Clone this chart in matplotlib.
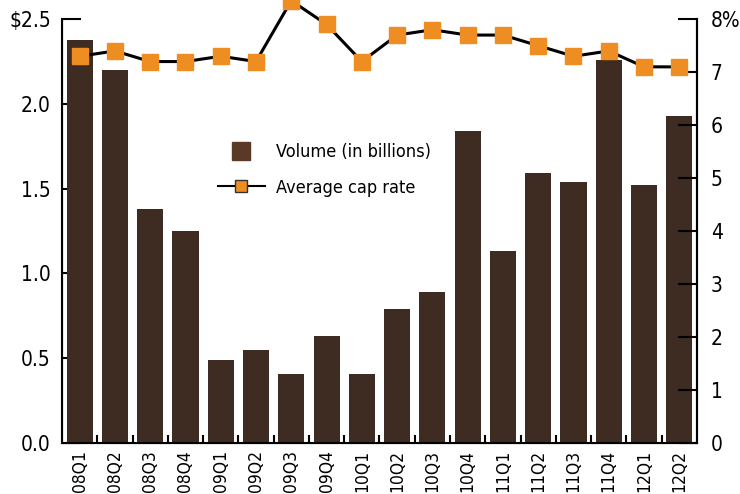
import matplotlib
matplotlib.use('Agg')
import matplotlib.pyplot as plt
from matplotlib import font_manager
from matplotlib.lines import Line2D
import numpy as np

# 找一个窄体字体
narrow = [f for f in font_manager.fontManager.ttflist
          if ('Narrow' in f.name or 'Condensed' in f.name
              or str(f.stretch) in ('condensed', 'semi-condensed', '75', '87'))
          and f.weight in (400, 'normal', 'regular') and f.style == 'normal']
if narrow:
    plt.rcParams['font.family'] = [narrow[0].name, 'DejaVu Sans']
    plt.rcParams['font.stretch'] = narrow[0].stretch
else:
    plt.rcParams['font.family'] = ['DejaVu Sans']

# 数据
quarters = ['08Q1', '08Q2', '08Q3', '08Q4', '09Q1', '09Q2', '09Q3', '09Q4', '10Q1',
            '10Q2', '10Q3', '10Q4', '11Q1', '11Q2', '11Q3', '11Q4', '12Q1', '12Q2']
volume = [2.38, 2.20, 1.38, 1.25, 0.49, 0.55, 0.41, 0.63, 0.41,
          0.79, 0.89, 1.84, 1.13, 1.59, 1.54, 2.26, 1.52, 1.93]
cap_rate = [7.3, 7.4, 7.2, 7.2, 7.3, 7.2, 8.35, 7.9, 7.2,
            7.7, 7.8, 7.7, 7.7, 7.5, 7.3, 7.4, 7.1, 7.1]
left_ticks = [0.0, 0.5, 1.0, 1.5, 2.0, 2.5]
left_labels = ['0.0', '0.5', '1.0', '1.5', '2.0', '$2.5']
right_ticks = [0, 1, 2, 3, 4, 5, 6, 7, 8]
right_labels = ['0', '1', '2', '3', '4', '5', '6', '7', '8%']

bar_color = '#3e2b22'
orange = '#ee8e22'

fig = plt.figure(figsize=(7.4, 4.94), dpi=100)
ax = fig.add_axes([0.0838, 0.1032, 0.858, 0.858])
x = np.arange(len(quarters))

ax.bar(x, volume, width=0.74, color=bar_color, zorder=2)
ax.set_xlim(-0.5, len(quarters) - 0.5)
ax.set_ylim(0, 2.5)
ax.set_yticks(left_ticks)
ax.set_yticklabels(left_labels)
ax.set_xticks(x)
ax.set_xticklabels(quarters, rotation=90)
ax.set_xticks(np.arange(0.5, len(quarters) - 0.5), minor=True)
ax.tick_params(axis='x', which='major', length=0, labelsize=12.5, pad=5)
ax.tick_params(axis='x', which='minor', direction='in', length=6, width=1.5)
ax.tick_params(axis='y', direction='in', length=14, width=1.5, labelsize=15, pad=8)
ax.spines['top'].set_visible(False)
for s in ['left', 'bottom', 'right']:
    ax.spines[s].set_linewidth(1.5)

ax2 = ax.twinx()
ax2.plot(x, cap_rate, color='black', linewidth=2.2, marker='s', markersize=11,
         markerfacecolor=orange, markeredgecolor=orange, clip_on=False, zorder=3)
ax2.set_ylim(0, 8)
ax2.set_yticks(right_ticks)
ax2.set_yticklabels(right_labels)
ax2.tick_params(axis='y', direction='in', length=14, width=1.5, labelsize=15, pad=10)
ax2.spines['top'].set_visible(False)
ax2.spines['right'].set_linewidth(1.5)

# 图例：方块 + 折线
handles = [Line2D([0], [0], linestyle='none', marker='s', markersize=13,
                  markerfacecolor='#5a3a26', markeredgecolor='#5a3a26'),
           Line2D([0], [0], color='black', linewidth=1.5, marker='s', markersize=9,
                  markerfacecolor=orange, markeredgecolor='#333333')]
ax2.legend(handles, ['Volume (in billions)', 'Average cap rate'], loc='upper left',
           bbox_to_anchor=(0.22, 0.745), frameon=False, fontsize=13,
           handlelength=2.6, labelspacing=0.95, handletextpad=0.6)

plt.savefig('out.png', dpi=100)
